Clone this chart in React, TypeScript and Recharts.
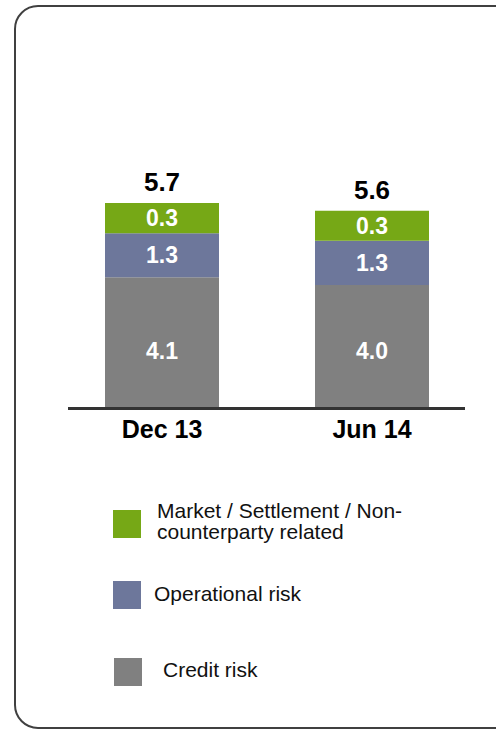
import { BarChart, Bar, XAxis, YAxis, LabelList } from 'recharts';

const periods = ['Dec 13', 'Jun 14'];

// values printed on the segments
const creditRisk = [4.1, 4.0];
const operationalRisk = [1.3, 1.3];
const marketRisk = [0.3, 0.3];
const totals = [5.7, 5.6];

// segment heights as drawn — the source chart is not to scale
const creditHeight = [4.1, 3.86];
const operationalHeight = [1.38, 1.38];
const marketHeight = [0.94, 0.94];

const GREEN = '#76a816';
const BLUE = '#6d779b';
const GREY = '#808080';

const chartData = periods.map((period, i) => ({
  period,
  credit: creditHeight[i],
  operational: operationalHeight[i],
  market: marketHeight[i],
  creditLabel: creditRisk[i],
  operationalLabel: operationalRisk[i],
  marketLabel: marketRisk[i],
  total: totals[i],
}));

const legendItems = [
  { color: GREEN, lines: ['Market / Settlement / Non-', 'counterparty related'], top: 510, textLeft: 157, textTop: 500, boxLeft: 113 },
  { color: BLUE, lines: ['Operational risk'], top: 581, textLeft: 154, textTop: 583, boxLeft: 113 },
  { color: GREY, lines: ['Credit risk'], top: 658, textLeft: 163, textTop: 659, boxLeft: 114 },
];

const fmt = (v: unknown) => Number(v).toFixed(1);

// credit label sits low in the grey block, not centred
function CreditLabel(props: any) {
  const { x, y, width, height, value } = props;
  return (
    <text
      x={Number(x) + Number(width) / 2}
      y={Number(y) + Number(height) - 50}
      textAnchor="middle"
      fill="#fff"
      fontSize={23}
      fontWeight="bold"
    >
      {fmt(value)}
    </text>
  );
}

export default function App() {
  return (
    <div
      style={{
        position: 'absolute',
        left: 0,
        top: 0,
        width: 496,
        height: 730,
        overflow: 'hidden',
        background: '#fff',
        fontFamily: '"Liberation Sans", Arial, sans-serif',
      }}
    >
      <div
        style={{
          position: 'absolute',
          left: 14,
          top: 5,
          width: 540,
          height: 724,
          boxSizing: 'border-box',
          border: '2px solid #404040',
          borderRadius: 24,
        }}
      />
      <div style={{ position: 'absolute', left: 0, top: 0 }}>
        <BarChart
          width={496}
          height={460}
          data={chartData}
          margin={{ top: 184.5, right: 31, left: 68, bottom: 0 }}
        >
          <XAxis
            dataKey="period"
            height={51.5}
            padding={{ left: -11, right: -12 }}
            axisLine={{ stroke: '#333', strokeWidth: 3 }}
            tickLine={false}
            tickMargin={6}
            tick={{ fontSize: 25, fontWeight: 'bold', fill: '#000' }}
          />
          <YAxis hide domain={[0, 7]} />
          <Bar dataKey="credit" stackId="a" fill={GREY} barSize={114} isAnimationActive={false}>
            <LabelList dataKey="creditLabel" content={CreditLabel} />
          </Bar>
          <Bar dataKey="operational" stackId="a" fill={BLUE} barSize={114} isAnimationActive={false}>
            <LabelList
              dataKey="operationalLabel"
              position="center"
              fill="#fff"
              fontSize={23}
              fontWeight="bold"
              formatter={fmt}
            />
          </Bar>
          <Bar dataKey="market" stackId="a" fill={GREEN} barSize={114} isAnimationActive={false}>
            <LabelList
              dataKey="marketLabel"
              position="center"
              fill="#fff"
              fontSize={23}
              fontWeight="bold"
              formatter={fmt}
            />
            <LabelList
              dataKey="total"
              position="top"
              offset={12}
              fill="#000"
              fontSize={26}
              fontWeight="bold"
              formatter={fmt}
            />
          </Bar>
        </BarChart>
      </div>
      {legendItems.map((item) => (
        <div key={item.lines[0]}>
          <div
            style={{
              position: 'absolute',
              left: item.boxLeft,
              top: item.top,
              width: 28,
              height: 28,
              background: item.color,
            }}
          />
          <div
            style={{
              position: 'absolute',
              left: item.textLeft,
              top: item.textTop,
              fontSize: 21,
              lineHeight: '21px',
              color: '#111',
              whiteSpace: 'nowrap',
            }}
          >
            {item.lines.map((line) => (
              <div key={line}>{line}</div>
            ))}
          </div>
        </div>
      ))}
    </div>
  );
}
